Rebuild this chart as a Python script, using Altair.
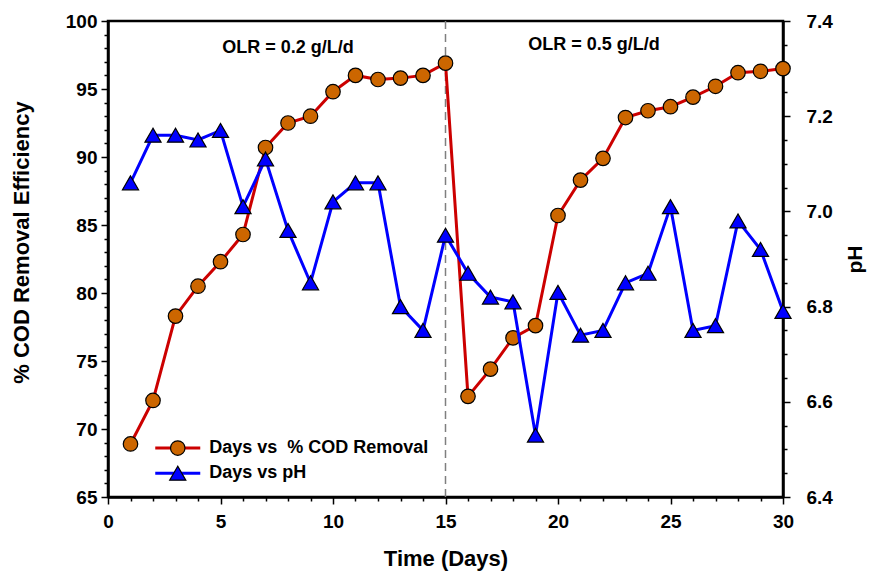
import altair as alt
import pandas as pd

days = list(range(1, 31))
cod = [68.9, 72.1, 78.3, 80.5, 82.3, 84.3, 90.7, 92.5, 93.0, 94.8,
       96.0, 95.7, 95.8, 96.0, 96.9, 72.4, 74.4, 76.7, 77.6, 85.7,
       88.3, 89.9, 92.9, 93.4, 93.7, 94.4, 95.2, 96.2, 96.3, 96.5]
ph = [7.06, 7.16, 7.16, 7.15, 7.17, 7.01, 7.11, 6.96, 6.85, 7.02,
      7.06, 7.06, 6.80, 6.75, 6.95, 6.87, 6.82, 6.81, 6.53, 6.83,
      6.74, 6.75, 6.85, 6.87, 7.01, 6.75, 6.76, 6.98, 6.92, 6.79]

olr_text = ["OLR = 0.2 g/L/d", "OLR = 0.5 g/L/d"]
olr_x = [8.0, 21.6]
olr_y = [98.0, 98.2]

change_day = [15]

leg_labels = ["Days vs\u00a0 % COD Removal", "Days vs pH"]
leg_y = [68.6, 66.75]
leg_x0 = 2.1
leg_x1 = 4.1
leg_xm = 3.1
leg_xt = 4.5

FONT = "Liberation Sans"
RED = "#CC0000"
ORANGE = "#CC6600"
BLUE = "#0000FF"

df = pd.DataFrame({"day": days, "cod": cod, "ph": ph})
olr_df = pd.DataFrame({"x": olr_x, "y": olr_y, "t": olr_text})
rule_df = pd.DataFrame({"x": change_day})
leg_line_df = pd.DataFrame({"x": [leg_x0, leg_x1, leg_x0, leg_x1],
                            "y": [leg_y[0], leg_y[0], leg_y[1], leg_y[1]],
                            "s": ["a", "a", "b", "b"]})
leg_pt_df = pd.DataFrame({"x": [leg_xm, leg_xm], "y": leg_y, "s": ["a", "b"]})
leg_txt_df = pd.DataFrame({"x": [leg_xt, leg_xt], "y": leg_y, "t": leg_labels})

xscale = alt.Scale(domain=[0, 30], nice=False, zero=False)
yscale = alt.Scale(domain=[65, 100], nice=False, zero=False)
phscale = alt.Scale(domain=[6.4, 7.4], nice=False, zero=False)

common_axis = dict(
    labelFont=FONT, labelFontSize=19, labelFontWeight="bold", labelColor="black",
    titleFont=FONT, titleFontSize=22, titleFontWeight="bold", titleColor="black",
    domainColor="black", domainWidth=2.5, tickColor="black", tickWidth=1.5,
    grid=False, labelOverlap=False, labelFlush=False,
)

xaxis = alt.Axis(
    title="Time (Days)", values=list(range(0, 31)),
    labelExpr="datum.value % 5 === 0 ? datum.label : ''",
    tickSize={"condition": {"test": "datum.value % 5 === 0", "value": 7}, "value": 4},
    labelPadding=8, titlePadding=17, **common_axis)

yaxis = alt.Axis(
    title="% COD Removal Efficiency", orient="left", values=list(range(65, 101)),
    labelExpr="datum.value % 5 === 0 ? datum.label : ''",
    tickSize={"condition": {"test": "datum.value % 5 === 0", "value": 7}, "value": 4},
    labelPadding=4, titlePadding=32, titleY=221, **common_axis)

ph_vals = [round(6.4 + 0.05 * i, 2) for i in range(21)]
phaxis = alt.Axis(
    title="pH", orient="right", values=ph_vals, format=".1f", titleAngle=270,
    labelExpr="round(datum.value * 100) % 20 === 0 ? datum.label : ''",
    tickSize={"condition": {"test": "round(datum.value * 100) % 20 === 0", "value": 7}, "value": 4},
    labelPadding=16, titlePadding=33, **{**common_axis, "titleFontSize": 21})

X = lambda f: alt.X(f, type="quantitative", scale=xscale, axis=xaxis)
Y = lambda f: alt.Y(f, type="quantitative", scale=yscale, axis=yaxis)

rule = alt.Chart(rule_df).mark_rule(color="#7f7f7f", strokeWidth=1.5, strokeDash=[8, 5]).encode(
    x=X("x"))

cod_line = alt.Chart(df).mark_line(color=RED, strokeWidth=3).encode(x=X("day"), y=Y("cod"))
cod_pts = alt.Chart(df).mark_point(shape="circle", filled=True, fill=ORANGE, stroke="black",
                                   strokeWidth=1.2, size=210, opacity=1).encode(
    x=X("day"), y=Y("cod"))

olr = alt.Chart(olr_df).mark_text(font=FONT, fontSize=18, fontWeight="bold", color="black",
                                  align="center", baseline="middle").encode(
    x=X("x"), y=Y("y"), text="t:N")

leg_lines = alt.Chart(leg_line_df).mark_line(strokeWidth=3).encode(
    x=X("x"), y=Y("y"), detail="s:N",
    color=alt.Color("s:N", scale=alt.Scale(domain=["a", "b"], range=[RED, BLUE]), legend=None))
leg_c = alt.Chart(leg_pt_df[leg_pt_df.s == "a"]).mark_point(
    shape="circle", filled=True, fill=ORANGE, stroke="black", strokeWidth=1.2, size=210, opacity=1).encode(
    x=X("x"), y=Y("y"))
leg_t = alt.Chart(leg_pt_df[leg_pt_df.s == "b"]).mark_point(
    shape="triangle-up", filled=True, fill=BLUE, stroke="black", strokeWidth=1.2, size=260, opacity=1).encode(
    x=X("x"), y=Y("y"))
leg_txt = alt.Chart(leg_txt_df).mark_text(font=FONT, fontSize=18, fontWeight="bold", color="black",
                                          align="left", baseline="middle").encode(
    x=X("x"), y=Y("y"), text="t:N")

left = alt.layer(rule, cod_line, cod_pts, olr, leg_lines, leg_c, leg_t, leg_txt)

PY = lambda f: alt.Y(f, type="quantitative", scale=phscale, axis=phaxis)
ph_line = alt.Chart(df).mark_line(color=BLUE, strokeWidth=3).encode(x=X("day"), y=PY("ph"))
ph_pts = alt.Chart(df).mark_point(shape="triangle-up", filled=True, fill=BLUE, stroke="black",
                                  strokeWidth=1.2, size=260, opacity=1).encode(
    x=X("day"), y=PY("ph"))
right = alt.layer(ph_line, ph_pts)

chart = alt.layer(left, right).resolve_scale(y="independent", color="independent").properties(
    width=675, height=476,
    autosize=alt.AutoSizeParams(type="none"),
    padding={"left": 100, "top": 13, "right": 84, "bottom": 74},
    background="white",
).configure_view(stroke="black", strokeWidth=2.5)

chart.save("out.html", embed_options={"renderer": "svg", "actions": False})
